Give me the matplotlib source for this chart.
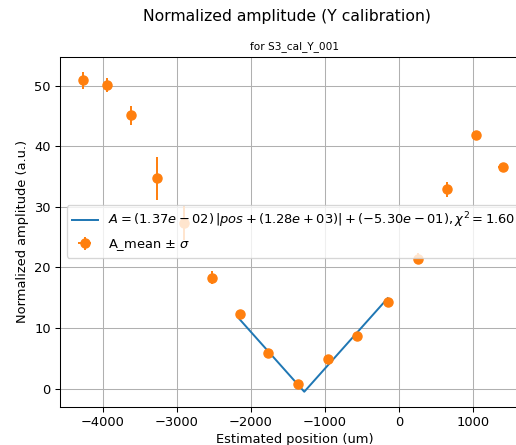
import numpy as np
import matplotlib.pyplot as plt

# Estimated position (um) and normalized amplitude for each scan point
pos = [-4270, -3942, -3617, -3270, -2905, -2531, -2153, -1766,
       -1360, -964, -563, -153, 257, 649, 1041, 1401]
pos_err = [40, 40, 40, 40, 40, 40, 40, 40, 40, 40, 40, 40, 50, 50, 60, 60]
amp = [50.9, 50.1, 45.1, 34.7, 27.3, 18.3, 12.3, 5.9,
       0.7, 4.8, 8.6, 14.3, 21.4, 32.9, 41.8, 36.6]
amp_err = [1.4, 1.1, 1.6, 3.5, 2.8, 1.1, 0.4, 0.4,
           0.4, 0.4, 0.4, 0.4, 0.9, 1.2, 0.4, 0.4]

# V-shape fit: A = a*|pos + b| + c, done on points 6..11
fit_a = 1.37e-02
fit_b = 1.28e+03
fit_c = -5.30e-01
chi2 = 1.60
fit_lo, fit_hi = 6, 11

DPI = 94
fig = plt.figure(figsize=(516 / DPI, 445 / DPI), dpi=DPI)
ax = fig.add_axes([60 / 516, 1 - 406.7 / 445, 469 / 516, 350 / 445])

xfit = np.linspace(pos[fit_lo], pos[fit_hi], 1000)
yfit = fit_a * np.abs(xfit + fit_b) + fit_c
label = (r'$A = (1.37e-02)\,|pos + (1.28e+03)| + (-5.30e-01), '
         r'\chi^2 = %.2f$' % chi2)
line, = ax.plot(xfit, yfit, color='C0', label=label)

eb = ax.errorbar(pos, amp, xerr=pos_err, yerr=amp_err, fmt='o', color='C1',
                 markersize=7, label=r'A_mean $\pm$ $\sigma$')

ax.set_xlim(-4581, 1757)
ax.set_ylim(-3.0, 54.8)
ax.set_xticks([-4000, -3000, -2000, -1000, 0, 1000])
ax.set_yticks([0, 10, 20, 30, 40, 50])
ax.grid(True)

ax.set_xlabel('Estimated position (um)', labelpad=3)
ax.set_ylabel('Normalized amplitude (a.u.)')
ax.set_title('for S3_cal_Y_001', fontsize=8)
fig.suptitle('Normalized amplitude (Y calibration)', x=0.557)
ax.legend(handles=[line, eb], loc='center left')

fig.savefig('out.png', dpi=DPI)
